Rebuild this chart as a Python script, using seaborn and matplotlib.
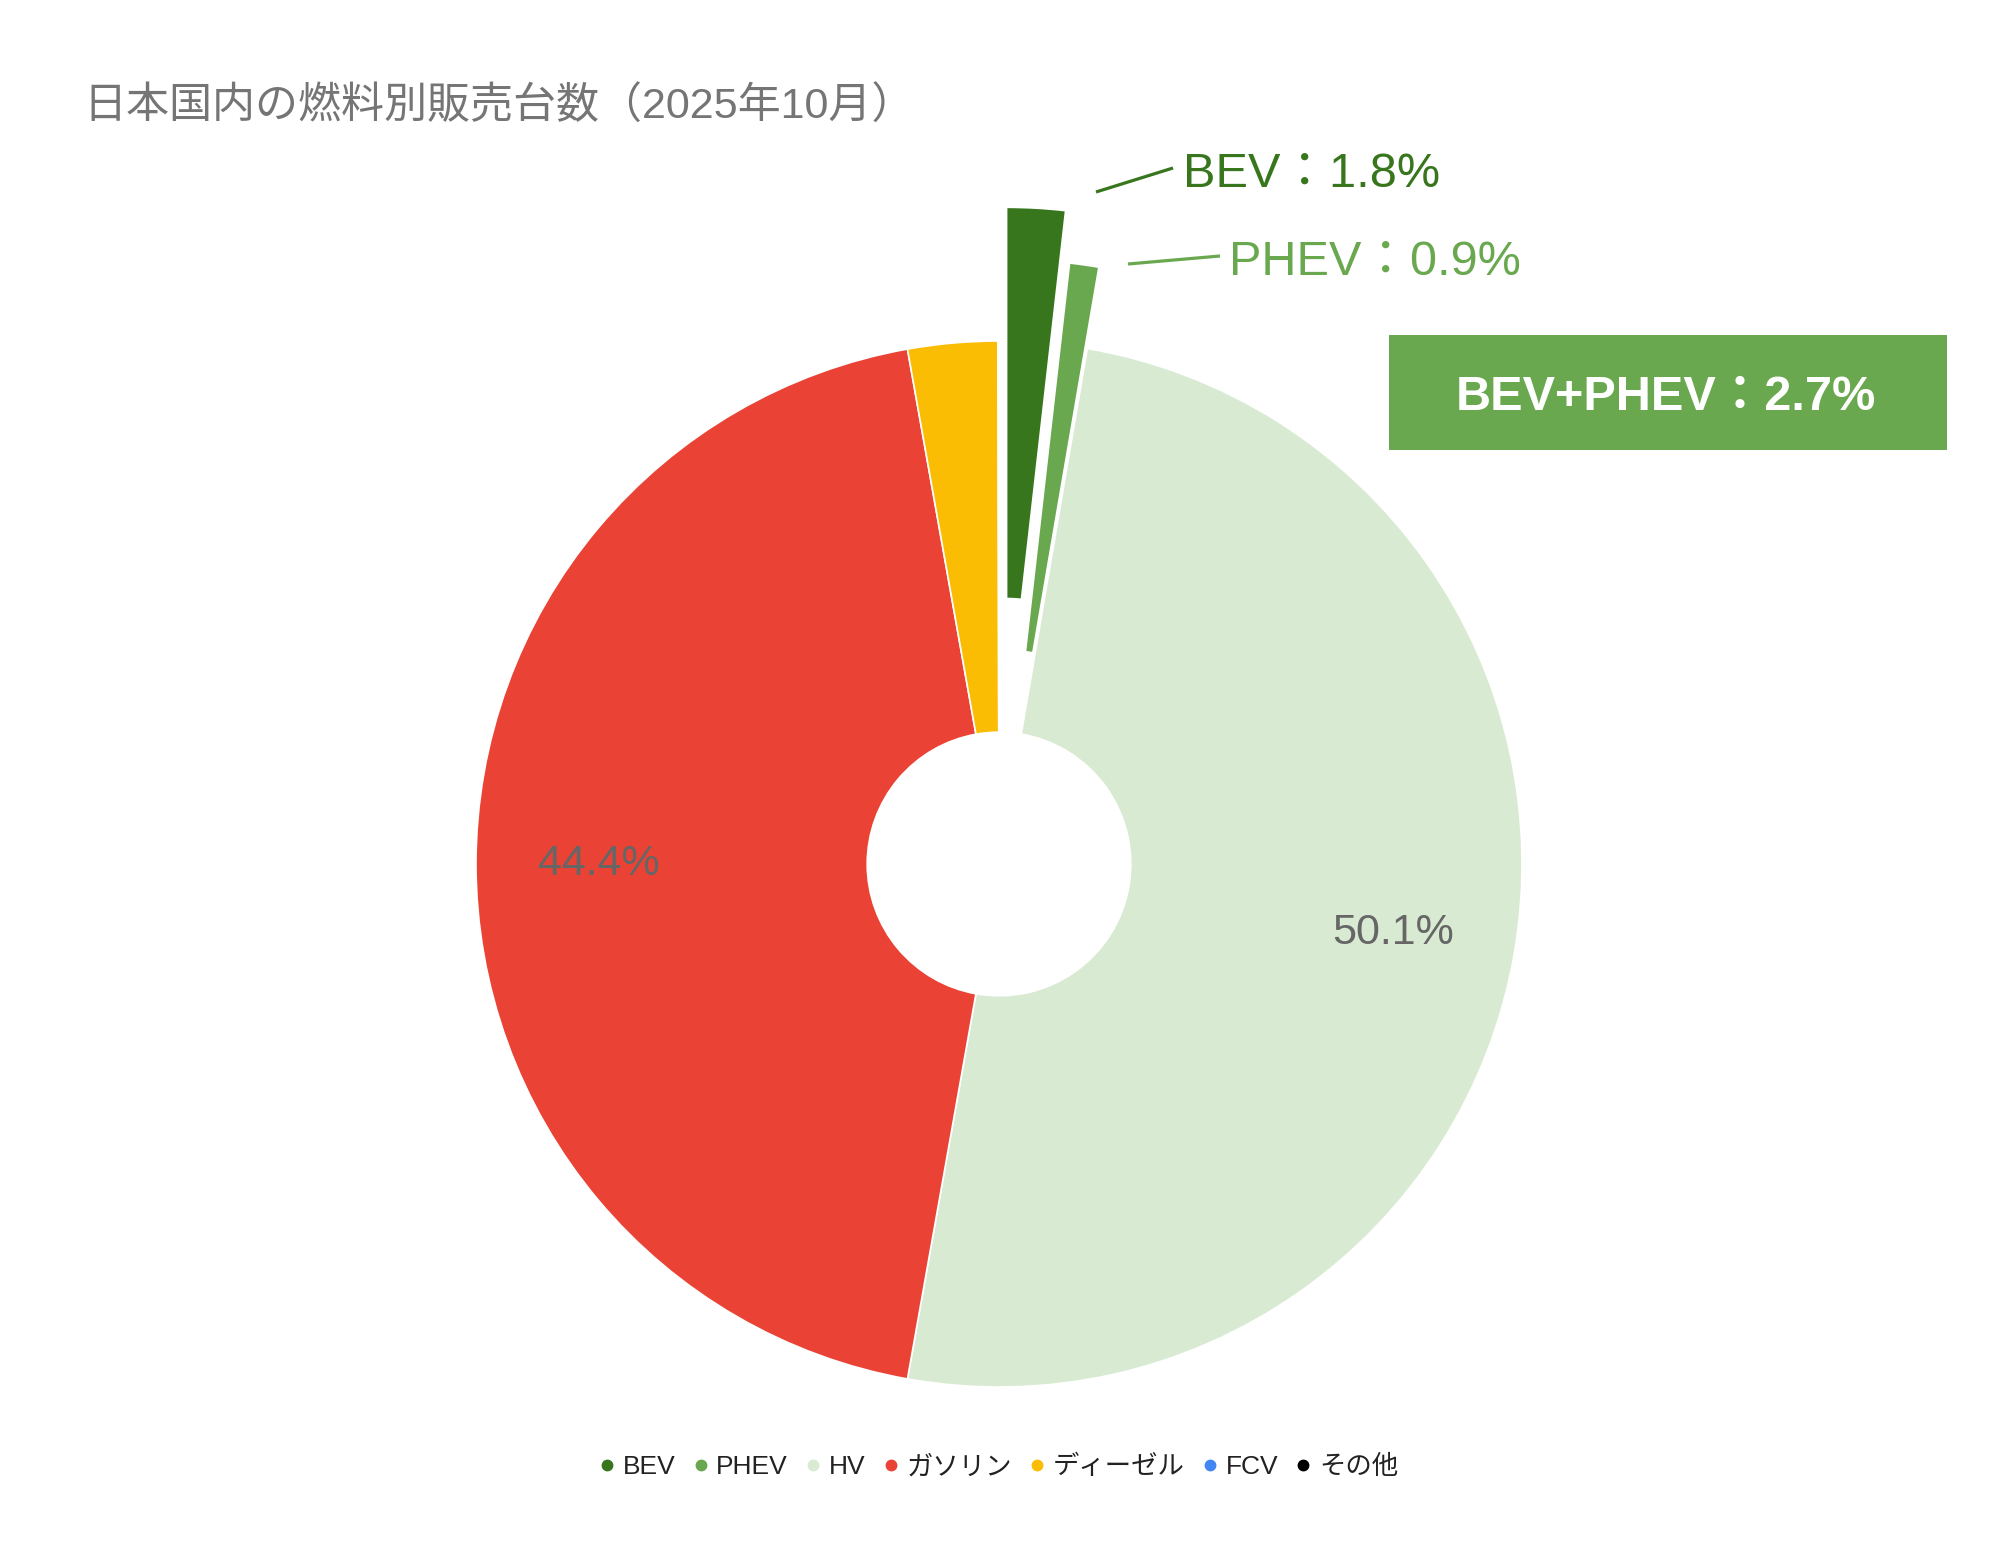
import matplotlib
matplotlib.use("Agg")
import matplotlib.pyplot as plt
from matplotlib.lines import Line2D
from matplotlib.patches import Rectangle
import seaborn as sns

# ---------------- data ----------------
title = "日本国内の燃料別販売台数（2025年10月）"
categories = ["BEV", "PHEV", "HV", "ガソリン", "ディーゼル", "FCV", "その他"]
shares = [1.8, 0.9, 50.1, 44.4, 2.77, 0.02, 0.01]
colors = ["#38761d", "#6aa84f", "#d9ead3", "#ea4335", "#fbbc04", "#4285f4", "#000000"]

# ---------------- style ----------------
sns.set_theme(style="white")
plt.rcParams["font.family"] = ["Liberation Sans", "Noto Sans CJK JP", "DejaVu Sans"]

W, H = 1998, 1567
fig = plt.figure(figsize=(W / 100, H / 100), dpi=100)
ax = fig.add_axes([0, 0, 1, 1])


def Y(y):
    return H - y


cx, cy, R = 999, Y(864), 523
explode_frac = [0.256, 0.157, 0, 0, 0, 0, 0]
explode = [e * R for e in explode_frac]  # pie's explode is in data units

wedges, texts, autotexts = ax.pie(
    shares,
    colors=colors,
    explode=explode,
    startangle=90,
    counterclock=False,
    center=(cx, cy),
    radius=R,
    autopct=lambda p: f"{p:.1f}%" if p > 10 else "",
    pctdistance=0.765,
    wedgeprops=dict(width=0.748 * R, edgecolor="white", linewidth=1.2),
    textprops=dict(color="#666666", fontsize=31),
)
ax.set_xlim(0, W)
ax.set_ylim(0, H)
ax.set_aspect("equal")
ax.axis("off")

# title
ax.text(83, Y(119), title, fontsize=31, color="#757575", ha="left", va="baseline")

# callouts for BEV / PHEV
callouts = [
    (0, (1096, 192), (1173, 168), (1183, 187)),
    (1, (1128, 264), (1220, 256), (1229, 275)),
]
for idx, p0, p1, tpos in callouts:
    col = colors[idx]
    ax.plot([p0[0], p1[0]], [Y(p0[1]), Y(p1[1])], color=col, lw=2.3,
            solid_capstyle="butt")
    ax.text(tpos[0], Y(tpos[1]), f"{categories[idx]}：{shares[idx]:.1f}%",
            fontsize=35, color=col, ha="left", va="baseline")

# BEV+PHEV box
ax.add_patch(Rectangle((1389, Y(450)), 558, 115, facecolor="#6aa84f",
                       edgecolor="none", zorder=3))
ev_total = shares[0] + shares[1]
ax.text(1666, Y(410), f"{categories[0]}+{categories[1]}：{ev_total:.1f}%",
        fontsize=35, fontweight="bold", color="white", ha="center",
        va="baseline", zorder=4)

# legend
handles = [Line2D([0], [0], marker="o", linestyle="none", markersize=7.5,
                  markerfacecolor=c, markeredgecolor=c) for c in colors]
fig.legend(handles, categories, loc="center", bbox_to_anchor=(0.5005, 1 - 1467 / H),
           ncol=len(categories), frameon=False, fontsize=19,
           handlelength=0.4, handletextpad=0.4, columnspacing=0.75,
           labelcolor="#222222", borderaxespad=0)

fig.savefig("out.png", dpi=100, facecolor="white")
